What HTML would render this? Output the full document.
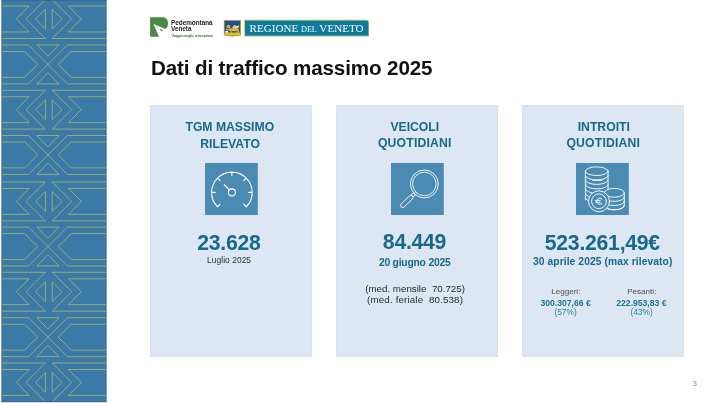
<!DOCTYPE html>
<html><head><meta charset="utf-8">
<style>
*{margin:0;padding:0;box-sizing:border-box}
html,body{width:709px;height:403px;overflow:hidden;background:#fff}
body{position:relative;font-family:"Liberation Sans",sans-serif}
.a{position:absolute;white-space:nowrap;line-height:1}
.c{text-align:center;width:200px}
.card{position:absolute;top:105.2px;width:162.2px;height:251.5px;background:#dce7f3;box-shadow:inset 0 0 0 1px #d6e3f1}
.hd{font-weight:bold;color:#17688b;font-size:12.2px}
.big{font-weight:bold;color:#17688b;font-size:21.2px;letter-spacing:-0.25px}
</style></head><body><div id="root" style="position:absolute;left:0;top:0;width:709px;height:403px;will-change:transform">
<svg class="a" style="left:0;top:0" width="110" height="403" viewBox="0 0 110 403">
<defs><clipPath id="cp"><rect x="1.5" y="0" width="105" height="402"/></clipPath></defs>
<rect x="1.5" y="0" width="105" height="402" fill="#3b7aa6"/>
<g clip-path="url(#cp)"><path d="M0 -84.75H29.2L16.3 -71.8L29.2 -58.85H0M107 -84.75H68.4L81.3 -71.8L68.4 -58.85H107M0 -91.25H45.4L25.9 -71.8L45.4 -52.35H0M107 -91.25H52.2L71.7 -71.8L52.2 -52.35H107M45.4 -81.6V-62L35.5 -71.8ZM52.2 -81.6V-62L62.1 -71.8ZM0 -45.8H28.5L67.4 -6.9H107M107 -45.8H67.4L28.5 -6.9H0M36.85 -45.8H59.05L47.95 -34.55ZM36.85 -6.9H59.05L47.95 -18.15ZM0 -39.3H24.65L37.75 -26.35L24.65 -13.4H0M107 -39.3H71.25L58.15 -26.35L71.25 -13.4H107M0 6.1H29.2L16.3 19.05L29.2 32H0M107 6.1H68.4L81.3 19.05L68.4 32H107M0 -0.4H45.4L25.9 19.05L45.4 38.5H0M107 -0.4H52.2L71.7 19.05L52.2 38.5H107M45.4 9.25V28.85L35.5 19.05ZM52.2 9.25V28.85L62.1 19.05ZM0 44.98H28.5L67.4 83.88H107M107 44.98H67.4L28.5 83.88H0M36.85 44.98H59.05L47.95 56.23ZM36.85 83.88H59.05L47.95 72.63ZM0 51.48H24.65L37.75 64.43L24.65 77.38H0M107 51.48H71.25L58.15 64.43L71.25 77.38H107M0 96.75H29.2L16.3 109.7L29.2 122.65H0M107 96.75H68.4L81.3 109.7L68.4 122.65H107M0 90.25H45.4L25.9 109.7L45.4 129.15H0M107 90.25H52.2L71.7 109.7L52.2 129.15H107M45.4 99.9V119.5L35.5 109.7ZM52.2 99.9V119.5L62.1 109.7ZM0 135.5H28.5L67.4 174.4H107M107 135.5H67.4L28.5 174.4H0M36.85 135.5H59.05L47.95 146.75ZM36.85 174.4H59.05L47.95 163.15ZM0 142H24.65L37.75 154.95L24.65 167.9H0M107 142H71.25L58.15 154.95L71.25 167.9H107M0 188.45H29.2L16.3 201.4L29.2 214.35H0M107 188.45H68.4L81.3 201.4L68.4 214.35H107M0 181.95H45.4L25.9 201.4L45.4 220.85H0M107 181.95H52.2L71.7 201.4L52.2 220.85H107M45.4 191.6V211.2L35.5 201.4ZM52.2 191.6V211.2L62.1 201.4ZM0 227.08H28.5L67.4 265.98H107M107 227.08H67.4L28.5 265.98H0M36.85 227.08H59.05L47.95 238.33ZM36.85 265.98H59.05L47.95 254.73ZM0 233.58H24.65L37.75 246.53L24.65 259.48H0M107 233.58H71.25L58.15 246.53L71.25 259.48H107M0 278.75H29.2L16.3 291.7L29.2 304.65H0M107 278.75H68.4L81.3 291.7L68.4 304.65H107M0 272.25H45.4L25.9 291.7L45.4 311.15H0M107 272.25H52.2L71.7 291.7L52.2 311.15H107M45.4 281.9V301.5L35.5 291.7ZM52.2 281.9V301.5L62.1 291.7ZM0 317.73H28.5L67.4 356.63H107M107 317.73H67.4L28.5 356.63H0M36.85 317.73H59.05L47.95 328.98ZM36.85 356.63H59.05L47.95 345.38ZM0 324.23H24.65L37.75 337.18L24.65 350.13H0M107 324.23H71.25L58.15 337.18L71.25 350.13H107M0 369.5H29.2L16.3 382.45L29.2 395.4H0M107 369.5H68.4L81.3 382.45L68.4 395.4H107M0 363H45.4L25.9 382.45L45.4 401.9H0M107 363H52.2L71.7 382.45L52.2 401.9H107M45.4 372.65V392.25L35.5 382.45ZM52.2 372.65V392.25L62.1 382.45ZM0 408.4H28.5L67.4 447.3H107M107 408.4H67.4L28.5 447.3H0M36.85 408.4H59.05L47.95 419.65ZM36.85 447.3H59.05L47.95 436.05ZM0 414.9H24.65L37.75 427.85L24.65 440.8H0M107 414.9H71.25L58.15 427.85L71.25 440.8H107M0 460.35H29.2L16.3 473.3L29.2 486.25H0M107 460.35H68.4L81.3 473.3L68.4 486.25H107M0 453.85H45.4L25.9 473.3L45.4 492.75H0M107 453.85H52.2L71.7 473.3L52.2 492.75H107M45.4 463.5V483.1L35.5 473.3ZM52.2 463.5V483.1L62.1 473.3ZM0 499.3H28.5L67.4 538.2H107M107 499.3H67.4L28.5 538.2H0M36.85 499.3H59.05L47.95 510.55ZM36.85 538.2H59.05L47.95 526.95ZM0 505.8H24.65L37.75 518.75L24.65 531.7H0M107 505.8H71.25L58.15 518.75L71.25 531.7H107" fill="none" stroke="#b3c066" stroke-width="0.72"/></g>
<rect x="1.5" y="0" width="105" height="1" fill="#2f6891" opacity="0.8"/>
<rect x="1.5" y="401" width="105" height="1" fill="#2a5f88" opacity="0.8"/>
<rect x="1" y="402" width="106" height="1" fill="#d3dfe8"/>
<rect x="1.5" y="0" width="1" height="402" fill="#2f6c98" opacity="0.6"/>
<rect x="105.5" y="0" width="1" height="402" fill="#2f6c98" opacity="0.6"/>
</svg>

<svg class="a" style="left:0;top:0" width="380" height="45" viewBox="0 0 380 45">
<path d="M150.1 17.3H162.9C166 17.3 168 19.8 168 23.3C168 26 167.2 28 165.6 29L153.4 23.9L159 36.8H150.1Z" fill="#4a8a45"/>
<path d="M156.4 26.5L157.5 26.9L158.3 27.9L157.2 27.6ZM159.1 28.9L161 29.3L163.5 31.3L161.4 31Z" fill="#4a8a45"/>
<text x="171" y="25.3" font-family="Liberation Sans" font-weight="bold" font-size="6.35" fill="#222">Pedemontana</text>
<text x="171" y="31.3" font-family="Liberation Sans" font-weight="bold" font-size="6.35" fill="#222">Veneta</text>
<text x="171.4" y="37" font-family="Liberation Sans" font-size="3.4" font-weight="bold" fill="#33802f" textLength="41.3">Viaggio meglio, arrivo prima</text>
<path d="M223.8 19.9H241V34.6Q241 35.6 240 35.8L233.2 36.6L232.3 37.3L231.4 36.6L224.8 35.8Q223.8 35.6 223.8 34.6Z" fill="#dcae2a"/>
<path d="M224.6 20.7H240.2V34.4Q240.2 34.9 239.6 35L232.3 35.8L225.2 35Q224.6 34.9 224.6 34.4Z" fill="#1f4f96"/>
<path d="M224.6 32.4H240.2V34.4Q240.2 34.9 239.6 35L232.3 35.8L225.2 35Q224.6 34.9 224.6 34.4Z" fill="#e7bd2c"/>
<path d="M232.2 27.6L234.3 25.1L236.4 26L239.6 25.5L238.2 28.2L234.3 28.9Z" fill="#efd68a"/>
<ellipse cx="228.4" cy="26.5" rx="1.8" ry="1.7" fill="#f0b224"/>
<ellipse cx="234.3" cy="29.6" rx="4.2" ry="1.6" fill="#eeb62a"/>
<path d="M229 27.5L231 28.5L230.5 31H229.3ZM226 28.6L228.8 28.9L228.6 30.4L226.4 30.2Z" fill="#eeb028"/>
<path d="M230.6 30H231.7V33.2H230.6ZM236.4 30H237.5V33.2H236.4ZM238.1 29.4H239.1V32.8H238.1Z" fill="#eab52a"/>
<path d="M225.3 31H228.1V32.7H225.3Z" fill="#f4f1ea"/>
<path d="M244.3 19.85H366.1Q369.1 19.85 369.1 22.9V36.4H244.3Z" fill="#b9b75c"/>
<path d="M245.1 20.7H366Q368.3 20.7 368.3 23V35.5H245.1Z" fill="#0c7b9e"/>
<text x="249.6" y="32" font-family="Liberation Serif" font-size="11.1" fill="#fff">REGIONE <tspan font-size="8.1">DEL</tspan> VENETO</text>
</svg>

<div class="a" style="left:150.9px;top:57.7px;font-size:20.6px;letter-spacing:-0.12px;font-weight:bold;color:#111">Dati di traffico massimo 2025</div>

<div class="card" style="left:150px"></div>
<div class="card" style="left:335.8px"></div>
<div class="card" style="left:521.9px"></div>

<div class="a c hd" style="left:129.8px;top:121.3px">TGM MASSIMO</div>
<div class="a c hd" style="left:130.1px;top:137.5px">RILEVATO</div>
<svg class="a" style="left:205.0px;top:162.5px" width="52.8" height="52.6" viewBox="0 0 52.8 52.6"><rect width="52.8" height="52.6" fill="#4a8ab3"/><g fill="none" stroke="#fff" stroke-width="1.1" stroke-linecap="round" stroke-linejoin="round"><path d="M12.55 43.75A20.3 20.3 0 1 1 41.25 43.75M12.55 43.75L15.09 41.21M6.60 29.40L10.20 29.40M12.55 15.05L15.09 17.59M26.90 9.10L26.90 12.70M41.25 15.05L38.71 17.59M47.20 29.40L43.60 29.40M41.25 43.75L38.71 41.21M24.43 26.93L19.26 21.76"/><circle cx="26.9" cy="29.4" r="3.5"/></g></svg>
<div class="a c big" style="left:128.95px;top:231.6px">23.628</div>
<div class="a c" style="left:129.1px;top:255.9px;font-size:8.4px;color:#2b2b2b;letter-spacing:0.06px">Luglio 2025</div>

<div class="a c hd" style="left:314.8px;top:121.1px">VEICOLI</div>
<div class="a c hd" style="left:314.8px;top:137.4px;letter-spacing:0.2px">QUOTIDIANI</div>
<svg class="a" style="left:390.9px;top:162.5px" width="52.8" height="52.6" viewBox="0 0 52.8 52.6"><rect width="52.8" height="52.6" fill="#4a8ab3"/><g fill="none" stroke="#fff" stroke-width="0.85" stroke-linecap="round" stroke-linejoin="round"><g transform="translate(33.3 21) rotate(135)"><circle r="14"/><circle r="11.8"/><rect x="14" y="-1.4" width="3" height="2.8"/><rect x="17" y="-2.1" width="15.6" height="4.2" rx="2"/></g></g></svg>
<div class="a c big" style="left:314.5px;top:231.2px">84.449</div>
<div class="a c" style="left:314.7px;top:257.6px;font-size:10.3px;letter-spacing:-0.2px;font-weight:bold;color:#17688b">20 giugno 2025</div>
<div class="a c" style="left:315.1px;top:284.2px;font-size:9.75px;color:#2b2b2b">(med. mensile&nbsp; 70.725)</div>
<div class="a c" style="left:315.1px;top:295.2px;font-size:9.75px;letter-spacing:0.15px;color:#2b2b2b">(med. feriale&nbsp; 80.538)</div>

<div class="a c hd" style="left:503.8px;top:121.1px">INTROITI</div>
<div class="a c hd" style="left:503.3px;top:137.4px;letter-spacing:0.2px">QUOTIDIANI</div>
<svg class="a" style="left:576.3px;top:162.5px" width="52.8" height="52.6" viewBox="0 0 52.8 52.6"><rect width="52.8" height="52.6" fill="#4a8ab3"/><g fill="none" stroke="#fff" stroke-width="0.9" stroke-linecap="round" stroke-linejoin="round"><path d="M9.40 8.2V36.8A11.35 4.3 0 0 0 32.10 36.8V8.2" fill="#4a8ab3" stroke="none"/><ellipse cx="20.75" cy="8.2" rx="11.35" ry="4.3"/><path d="M9.40 8.2V36.8M32.10 8.2V36.8M9.40 12.65A11.35 4.3 0 0 0 32.10 12.65M9.40 17.10A11.35 4.3 0 0 0 32.10 17.10M9.40 21.55A11.35 4.3 0 0 0 32.10 21.55M9.40 26.00A11.35 4.3 0 0 0 32.10 26.00M9.40 30.45A11.35 4.3 0 0 0 32.10 30.45M9.40 34.90A11.35 4.3 0 0 0 32.10 34.90M16.6 17.3H26"/><path d="M28.20 29.8V42.4A10.05 4.4 0 0 0 48.30 42.4V29.8A10.05 4.4 0 0 0 28.20 29.8Z" fill="#4a8ab3"/><path d="M28.20 29.8A10.05 4.4 0 0 0 48.30 29.8M28.20 34.00A10.05 4.4 0 0 0 48.30 34.00M28.20 38.20A10.05 4.4 0 0 0 48.30 38.20M28.20 42.40A10.05 4.4 0 0 0 48.30 42.40"/><circle cx="23.0" cy="38.3" r="10.5" fill="#4a8ab3"/><circle cx="23.0" cy="38.3" r="7.4"/><path d="M25.89 35.93A3.1 3.1 0 1 0 25.89 40.67M19.60 37.40H24.20M19.60 39.20H24.20"/></g></svg>
<div class="a c big" style="left:502.35px;top:231.6px">523.261,49€</div>
<div class="a c" style="left:502.7px;top:257px;font-size:10.3px;letter-spacing:0.07px;font-weight:bold;color:#17688b">30 aprile 2025 (max rilevato)</div>

<div class="a c" style="left:465.8px;top:288px;font-size:8.1px;color:#4d4d4d">Leggeri:</div>
<div class="a c" style="left:465.6px;top:298.9px;font-size:8.6px;font-weight:bold;color:#1e7293">300.307,66 €</div>
<div class="a c" style="left:465.6px;top:308.3px;font-size:8.4px;color:#2f7fa0">(57%)</div>
<div class="a c" style="left:541.8px;top:288px;font-size:8.1px;color:#4d4d4d">Pesanti:</div>
<div class="a c" style="left:541.4px;top:298.9px;font-size:8.6px;font-weight:bold;color:#1e7293">222.953,83 €</div>
<div class="a c" style="left:541.6px;top:308.3px;font-size:8.4px;color:#2f7fa0">(43%)</div>

<div class="a" style="left:692.8px;top:379.5px;font-size:7.5px;color:#888">3</div>
</div></body></html>
